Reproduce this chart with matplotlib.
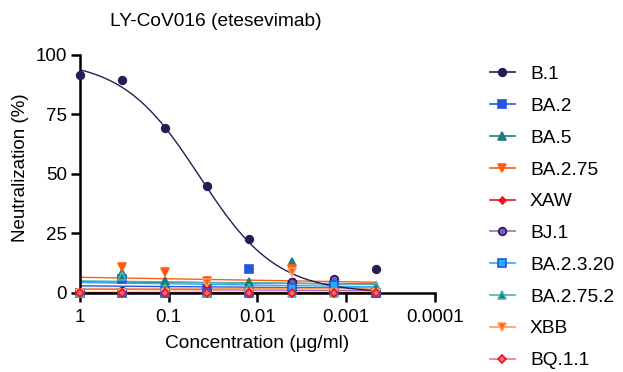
import matplotlib.pyplot as plt
import numpy as np

plt.rcParams['font.family'] = ['Liberation Sans', 'DejaVu Sans']

# dilution series (ug/ml), 3-fold
conc = [1, 0.3333, 0.1111, 0.03704, 0.01235, 0.004115, 0.001372, 0.000457]

variants = ["B.1", "BA.2", "BA.5", "BA.2.75", "XAW", "BJ.1",
            "BA.2.3.20", "BA.2.75.2", "XBB", "BQ.1.1"]

b1 = [91.5, 89.5, 69.5, 45, 22.5, 4.5, 5.5, 10]
ba2 = [0, 6, 1, 1.5, 10, 3, 1, 0]
ba5 = [0, 8.5, 5, 1, 4.5, 13, 2, 3]
ba275 = [0, 11, 9, 5, 0, 10, 3, 0]
xaw = [0, 0, 0, 3, 0, 0, 2, 0]
bj1 = [0, 1, 0, 1, 0, 4.5, 6, 0]
ba2320 = [0, 0, 0, 0, 0, 2, 3.5, 0]
ba2752 = [0, 7, 2, 0, 2, 0, 0, 3]
xbb = [0, 0, 0, 4, 0, 9, 0, 0]
bq11 = [0, 0, 0, 0, 0, 0, 0, 0]

# B.1 dose-response fit (top, IC50, hill)
b1_top, b1_ic50, b1_hill = 98, 0.045, 1.0

# flat fits for the non-neutralised variants: value at highest / lowest conc
fit_left = [None, 3.0, 4.7, 6.6, 0.3, 1.6, 4.4, 5.1, 2.0, 0.0]
fit_right = [None, 2.0, 3.8, 4.5, 0.3, 1.0, 2.6, 3.6, 2.0, 0.0]

series = [b1, ba2, ba5, ba275, xaw, bj1, ba2320, ba2752, xbb, bq11]

# (line colour, marker, face colour, edge colour, marker size)
styles = [
    ("#2b1a55", "o", "#2b1a55", "#2b1a55", 5.5),
    ("#2258e0", "s", "#2258e0", "#2258e0", 5.5),
    ("#1c7b7b", "^", "#1c7b7b", "#1c7b7b", 6),
    ("#ff5b12", "v", "#ff5b12", "#ff5b12", 6),
    ("#e8141c", "D", "#e8141c", "#e8141c", 3.5),
    ("#8c78c0", "o", "#7a5cc0", "#2b1a55", 5.5),
    ("#3aa8ee", "s", "#1fb0f5", "#2258e0", 5.5),
    ("#4fb0b0", "^", "#1c7b7b", "#4fb0b0", 6),
    ("#ff9a60", "v", "#ff5b12", "#ff9a60", 6),
    ("#f07888", "D", "#ff6a80", "#e8141c", 4.5),
]

fig = plt.figure(figsize=(6.23, 3.72), dpi=100)
ax = fig.add_axes([0.1284, 0.2124, 0.5698, 0.6398])

handles = []
for i, (name, vals) in enumerate(zip(variants, series)):
    lc, mk, fc, ec, ms = styles[i]
    if i == 0:
        xs = np.logspace(0, np.log10(conc[-1]), 200)
        ys = b1_top / (1 + (b1_ic50 / xs) ** b1_hill)
        ax.plot(xs, ys, color=lc, lw=1.0, zorder=3)
    else:
        ax.plot([conc[0], conc[-1]], [fit_left[i], fit_right[i]], color=lc, lw=1.0, zorder=2)
    ax.plot(conc, vals, linestyle='none', marker=mk, ms=ms, mfc=fc, mec=ec,
            mew=1.2, clip_on=False, zorder=4)
    h, = ax.plot([], [], color=lc, lw=1.2, marker=mk, ms=ms, mfc=fc, mec=ec, mew=1.2)
    handles.append(h)

ax.set_xscale('log')
ax.set_xlim(1, 1e-4)
ax.set_ylim(0, 100)
ax.set_xticks([1, 0.1, 0.01, 0.001, 0.0001])
ax.set_xticklabels(["1", "0.1", "0.01", "0.001", "0.0001"])
ax.xaxis.set_minor_locator(plt.NullLocator())
ax.set_yticks([0, 25, 50, 75, 100])

for s in ['top', 'right']:
    ax.spines[s].set_visible(False)
for s in ['left', 'bottom']:
    ax.spines[s].set_linewidth(1.8)
ax.tick_params(axis='both', width=1.8, length=6.5, labelsize=13.5)
ax.tick_params(axis='x', pad=5)
ax.tick_params(axis='y', pad=3)

fig.text(216 / 623, 1 - 21 / 372, "LY-CoV016 (etesevimab)", ha='center', va='center', fontsize=13.8)
fig.text(21 / 623, 1 - 168 / 372, "Neutralization (%)", rotation=90, ha='center', va='center', fontsize=13.5)
fig.text(257 / 623, 1 - 344 / 372, "Concentration (\u03bcg/ml)", ha='center', va='center', fontsize=13.8)

fig.legend(handles, variants, loc='upper left', bbox_to_anchor=(484 / 623, 1 - 60 / 372),
           frameon=False, fontsize=13.8, handlelength=1.3, labelspacing=0.75, handletextpad=0.8,
           borderaxespad=0, borderpad=0.3)

plt.savefig("out.png", dpi=100)
plt.close()
